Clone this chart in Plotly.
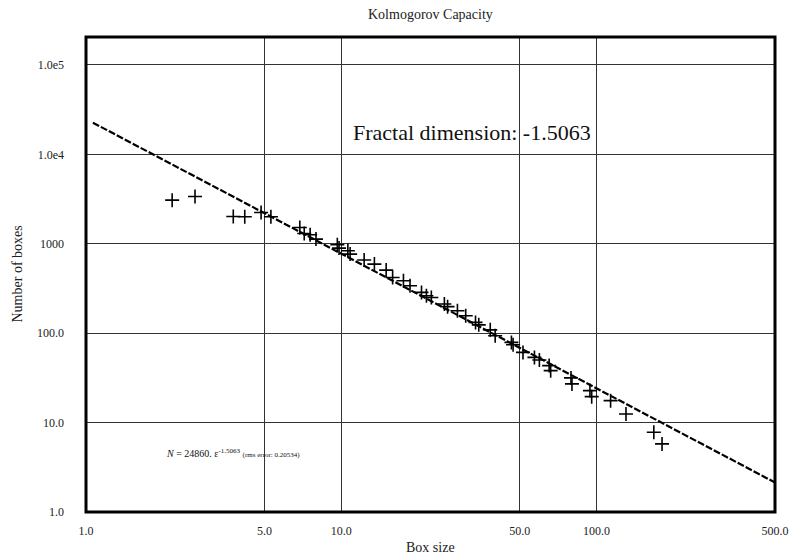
import plotly.graph_objects as go

# Box-counting results: box size vs. number of occupied boxes
box_size = [2.175, 2.673, 3.775, 4.187, 4.851, 5.30, 6.88, 7.16, 7.55, 7.96,
            9.65, 9.80, 10.61, 10.83, 12.29, 13.48, 14.99, 15.89, 17.52, 18.59,
            20.62, 21.55, 22.53, 25.34, 26.09, 28.51, 30.72, 33.56, 34.56, 38.33,
            40.07, 46.4, 47.1, 51.5, 57.1, 59.7, 65.2, 66.1, 79.4, 80.1,
            94.2, 95.7, 113.5, 130.4, 167.6, 180.5]
num_boxes = [3077, 3378, 2018, 2003, 2237, 2003, 1521, 1303, 1261, 1129,
             974, 895, 835, 767, 658, 593, 508, 420, 386, 339,
             286, 262, 251, 212, 198, 178, 157, 132, 124, 109,
             93.8, 78.9, 74.4, 61.0, 53.6, 50.1, 43.4, 38.1, 31.6, 27.1,
             22.8, 19.5, 17.6, 12.5, 7.79, 5.78]

# Power-law fit N = c * eps^d
fit_coeff = 24860.0
fit_exp = -1.5063
rms_error = 0.20534
fit_x = [1.064, 500.0]
fit_y = [fit_coeff * x ** fit_exp for x in fit_x]

x_ticks = [1, 5, 10, 50, 100, 500]
x_tick_text = ["1.0", "5.0", "10.0", "50.0", "100.0", "500.0"]
y_ticks = [1, 10, 100, 1000, 1e4, 1e5]
y_tick_text = ["1.0", "10.0", "100.0", "1000", "1.0e4", "1.0e5"]

serif = "Liberation Serif, Times New Roman, serif"

fig = go.Figure()
fig.add_trace(go.Scatter(
    x=fit_x, y=fit_y, mode="lines",
    line=dict(color="black", width=2.2, dash="7px,2px"),
    hoverinfo="skip", showlegend=False,
))
fig.add_trace(go.Scatter(
    x=box_size, y=num_boxes, mode="markers",
    marker=dict(symbol="cross-thin", size=10, line=dict(color="black", width=1.6)),
    showlegend=False,
))

fig.update_layout(
    width=801, height=556,
    margin=dict(l=86, r=14, t=37, b=44),
    paper_bgcolor="white", plot_bgcolor="white",
    font=dict(family=serif, size=11, color="black"),
    xaxis=dict(
        type="log", range=[0, 2.69897],
        tickvals=x_ticks, ticktext=x_tick_text,
        showgrid=True, gridcolor="#333333", gridwidth=1,
        zeroline=False, showline=False, ticks="",
        ticklabelstandoff=10,
        tickfont=dict(family=serif, size=12, color="#222"),
    ),
    yaxis=dict(
        type="log", range=[0, 5.313],
        tickvals=y_ticks, ticktext=y_tick_text,
        showgrid=True, gridcolor="#333333", gridwidth=1,
        zeroline=False, showline=False, ticks="",
        ticklabelstandoff=21,
        tickfont=dict(family=serif, size=12, color="#222"),
    ),
    shapes=[dict(
        type="rect", xref="paper", yref="paper", x0=0, x1=1, y0=0, y1=1,
        line=dict(color="black", width=3), fillcolor="rgba(0,0,0,0)",
    )],
    annotations=[
        dict(text="Kolmogorov Capacity", xref="paper", yref="paper",
             x=0.5, y=1, yshift=23, showarrow=False, yanchor="middle",
             font=dict(family=serif, size=14, color="#222")),
        dict(text="Box size", xref="paper", yref="paper",
             x=0.5, y=0, yshift=-35, showarrow=False, yanchor="middle",
             font=dict(family=serif, size=14, color="#222")),
        dict(text="Number of boxes", xref="paper", yref="paper",
             x=0, y=0.5, xshift=-69, textangle=-90, showarrow=False,
             xanchor="center", font=dict(family=serif, size=14, color="#222")),
        dict(text=f"Fractal dimension: {fit_exp:.4f}", xref="x", yref="y",
             x=1.513, y=4.24, showarrow=False, xanchor="center", yanchor="middle",
             font=dict(family=serif, size=22, color="#111")),
        dict(text=(f"<i>N</i> = {fit_coeff:.0f}. ε<sup>{fit_exp:.4f}</sup> "
                   f"<span style='font-size:7px'>(rms error: {rms_error})</span>"),
             xref="x", yref="y", x=0.305, y=0.66, showarrow=False,
             xanchor="left", yanchor="middle",
             font=dict(family=serif, size=10, color="#111")),
    ],
)

fig.write_html("out.html")
